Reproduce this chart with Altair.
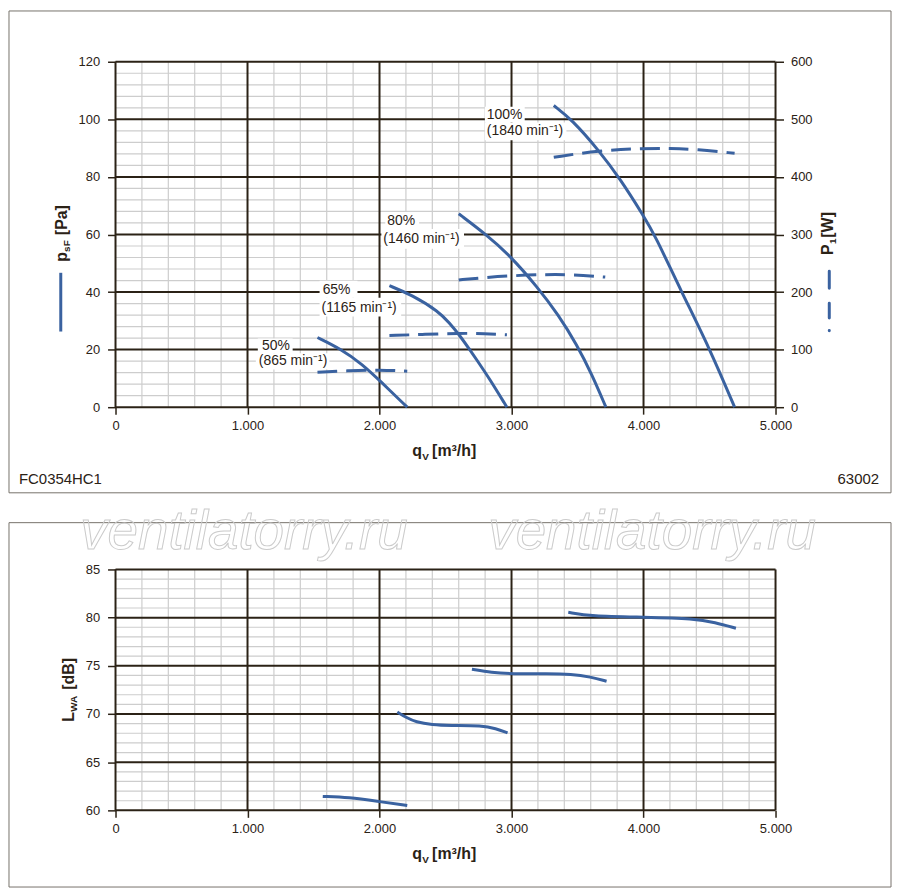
import altair as alt
import pandas as pd

BLUE = "#3a62a0"
DARK = "#2b2216"
MINOR = "#cdcdcd"
BORDER = "#77726b"
FONT = "Liberation Sans"

# ---------------- data ----------------
speeds = ["50%", "65%", "80%", "100%"]

# static pressure p_sF [Pa] vs air flow q_V [m3/h]
q_p50 = [1530, 1700, 1870, 2000, 2210]
p_p50 = [24.2, 20.4, 14.9, 9.3, 0.0]
q_p65 = [2075, 2245, 2450, 2530, 2600, 2680, 2755, 2830, 2965]
p_p65 = [42.2, 39.0, 33.2, 29.2, 25.4, 20.2, 15.2, 10.1, 0.0]
q_p80 = [2600, 2805, 2990, 3195, 3355, 3495, 3610, 3715]
p_p80 = [67.2, 60.1, 52.6, 41.8, 32.1, 21.7, 11.3, 0.0]
q_p100 = [3320, 3455, 3660, 3825, 3997, 4085, 4285, 4500, 4690]
p_p100 = [104.8, 100.0, 89.3, 79.2, 66.7, 59.9, 40.3, 20.5, 0.0]

# input power P1 [W]
q_w50 = [1530, 1770, 2000, 2210]
w_w50 = [60.5, 63.5, 65.0, 62.5]
q_w65 = [2075, 2350, 2600, 2800, 2965]
w_w65 = [124.5, 126.5, 128.5, 128.0, 125.7]
q_w80 = [2600, 2780, 2990, 3250, 3450, 3710]
w_w80 = [221.0, 224.8, 228.3, 230.5, 230.5, 226.0]
q_w100 = [3320, 3660, 4000, 4200, 4400, 4690]
w_w100 = [434.0, 446.0, 449.5, 449.5, 448.0, 441.0]

# sound power L_WA [dB]
q_n50 = [1570, 1770, 1980, 2210]
l_n50 = [61.45, 61.35, 60.95, 60.5]
q_n65 = [2135, 2200, 2275, 2400, 2530, 2780, 2880, 2970]
l_n65 = [70.2, 69.65, 69.16, 68.88, 68.8, 68.8, 68.5, 68.05]
q_n80 = [2700, 2850, 3000, 3280, 3450, 3600, 3720]
l_n80 = [74.65, 74.3, 74.15, 74.2, 74.15, 73.85, 73.4]
q_n100 = [3430, 3600, 4000, 4390, 4540, 4700]
l_n100 = [80.55, 80.15, 80.05, 79.9, 79.5, 78.9]

# speed annotations (anchor in data units)
lab_text = ["50%", "(865 min⁻¹)", "65%", "(1165 min⁻¹)",
            "80%", "(1460 min⁻¹)", "100%", "(1840 min⁻¹)"]
lab_q = [1109, 1086, 1569, 1561, 2059, 2029, 2813, 2813]
lab_p = [19.7, 14.5, 39.4, 33.2, 63.3, 56.9, 100.1, 94.6]
box_q1 = [1078, 1063, 1546, 1546, 2044, 2014, 2798, 2798]
box_q2 = [1342, 1621, 1833, 2164, 2300, 2640, 3100, 3416]
box_p1 = [23.9, 18.7, 43.9, 38.0, 67.8, 61.9, 104.4, 98.9]
box_p2 = [18.7, 13.1, 38.0, 31.5, 61.9, 55.0, 98.9, 92.7]

# axis ticks
x_major = [0, 1000, 2000, 3000, 4000, 5000]
x_minor = [v for v in range(0, 5001, 200) if v % 1000]
p_major = [0, 20, 40, 60, 80, 100, 120]
p_minor = [v for v in range(0, 121, 4) if v % 20]
w_ticks = [0, 100, 200, 300, 400, 500, 600]
l_major = [60, 65, 70, 75, 80, 85]
l_minor = [v for v in range(60, 86) if v % 5]


def frame(spd, qs, vs, name):
    return pd.DataFrame({"speed": spd, "q": qs, name: vs})


press = pd.concat([frame("50%", q_p50, p_p50, "P"), frame("65%", q_p65, p_p65, "P"),
                   frame("80%", q_p80, p_p80, "P"), frame("100%", q_p100, p_p100, "P")])
power = pd.concat([frame("50%", q_w50, w_w50, "W"), frame("65%", q_w65, w_w65, "W"),
                   frame("80%", q_w80, w_w80, "W"), frame("100%", q_w100, w_w100, "W")])
noise = pd.concat([frame("50%", q_n50, l_n50, "L"), frame("65%", q_n65, l_n65, "L"),
                   frame("80%", q_n80, l_n80, "L"), frame("100%", q_n100, l_n100, "L")])
labels = pd.DataFrame({"text": lab_text, "q": lab_q, "P": lab_p})
boxes = pd.DataFrame({"q1": box_q1, "q2": box_q2, "P1": box_p1, "P2": box_p2})
one = pd.DataFrame({"k": [0]})

W, H_TOP, H_BOT = 663, 347, 242

XS = alt.Scale(domain=[0, 5000], nice=False, zero=False)
PS = alt.Scale(domain=[0, 120], nice=False, zero=False)
WS = alt.Scale(domain=[0, 600], nice=False, zero=False)
LS = alt.Scale(domain=[60, 85], nice=False, zero=False)

label_expr = "replace(format(datum.value, ','), ',', '.')"
X_AXIS = alt.Axis(values=x_major, labelExpr=label_expr, domain=False, grid=False,
                  tickSize=7, tickColor=DARK, tickWidth=1.5, labelPadding=5,
                  labelFontSize=13, labelFont=FONT, labelColor=DARK, title=None,
                  labelFlush=False)


def y_axis(vals, orient="left"):
    return alt.Axis(values=vals, orient=orient, domain=False, grid=False,
                    tickSize=8, tickColor=DARK, tickWidth=1.5,
                    labelPadding=7 if orient == "right" else 8,
                    labelFontSize=13, labelFont=FONT, labelColor=DARK, title=None,
                    labelFlush=False)


P_AXIS = y_axis(p_major)
L_AXIS = y_axis(l_major)
W_AXIS = y_axis(w_ticks, "right")


def xenc(field):
    return alt.X(field, type="quantitative", scale=XS, axis=X_AXIS)


def vrules(vals, color, width):
    return alt.Chart(pd.DataFrame({"q": vals})).mark_rule(color=color, strokeWidth=width).encode(
        x=xenc("q"))


def hrules(vals, scale, axis, color, width):
    return alt.Chart(pd.DataFrame({"v": vals})).mark_rule(color=color, strokeWidth=width).encode(
        y=alt.Y("v:Q", scale=scale, axis=axis))


def ptext(txt, x, y, size=16, bold=True, angle=0, align="left"):
    kw = dict(text=txt, fontSize=size, font=FONT, color=DARK, align=align,
              baseline="alphabetic")
    if bold:
        kw["fontWeight"] = "bold"
    if angle:
        kw["angle"] = angle
    return alt.Chart(one).mark_text(**kw).encode(x=alt.value(x), y=alt.value(y))


def border(y1, y2):
    return alt.Chart(one).mark_rect(filled=False, stroke=BORDER, strokeWidth=1).encode(
        x=alt.value(-107), x2=alt.value(779), y=alt.value(y1), y2=alt.value(y2))


def watermark(x):
    return alt.Chart(one).mark_text(text="ventilatorry.ru", fontSize=55, fontStyle="italic",
                                    font=FONT, align="center", baseline="alphabetic",
                                    fillOpacity=0, stroke="#cbcbcb", strokeWidth=1).encode(
        x=alt.value(x), y=alt.value(-21))


# ---------------- top panel ----------------
top_a = alt.layer(
    vrules(x_minor, MINOR, 1.2),
    hrules(p_minor, PS, P_AXIS, MINOR, 1.2),
    vrules(x_major, DARK, 2),
    hrules(p_major, PS, P_AXIS, DARK, 2),
    alt.Chart(boxes).mark_rect(color="white").encode(
        x=xenc("q1"), x2="q2:Q",
        y=alt.Y("P1:Q", scale=PS, axis=P_AXIS), y2="P2:Q"),
    alt.Chart(press).mark_line(color=BLUE, strokeWidth=3, interpolate="basis").encode(
        x=xenc("q"),
        y=alt.Y("P:Q", scale=PS, axis=P_AXIS),
        detail="speed:N"),
    alt.Chart(labels).mark_text(align="left", baseline="alphabetic", fontSize=14,
                                font=FONT, color=DARK).encode(
        x=xenc("q"),
        y=alt.Y("P:Q", scale=PS, axis=P_AXIS),
        text="text:N"),
    border(-51, 433),
    # axis titles
    ptext("p", -49, 201, angle=270),
    ptext("sF", -46, 191, size=10, angle=270),
    ptext("[Pa]", -49, 144, angle=270, align="right"),
    ptext("P", 721, 194, angle=270),
    ptext("1", 724, 183, size=10, angle=270),
    ptext("[W]", 721, 151, angle=270, align="right"),
    ptext("q", 298, 396),
    ptext("V", 308, 400, size=10),
    ptext("[m³/h]", 318, 396),
    ptext("FC0354HC1", -97, 424, size=15, bold=False),
    ptext("63002", 767, 424, size=15, bold=False, align="right"),
    # legend glyphs
    alt.Chart(one).mark_rule(color=BLUE, strokeWidth=3).encode(
        x=alt.value(-55), y=alt.value(212), y2=alt.value(271)),
    alt.Chart(one).mark_rule(color=BLUE, strokeWidth=3, strokeCap="round",
                             strokeDash=[17, 15, 15, 12.5, 0.1, 100]).encode(
        x=alt.value(717), y=alt.value(210.5), y2=alt.value(270.2)),
)

top_b = alt.Chart(power).mark_line(color=BLUE, strokeWidth=3, strokeDash=[20, 9],
                                   interpolate="basis").encode(
    x=xenc("q"),
    y=alt.Y("W:Q", scale=WS, axis=W_AXIS),
    detail="speed:N")

top = alt.layer(top_a, top_b).resolve_scale(y="independent").properties(width=W, height=H_TOP)

# ---------------- bottom panel ----------------
bottom = alt.layer(
    vrules(x_minor, MINOR, 1.2),
    hrules(l_minor, LS, L_AXIS, MINOR, 1.2),
    vrules(x_major, DARK, 2),
    hrules(l_major, LS, L_AXIS, DARK, 2),
    alt.Chart(noise).mark_line(color=BLUE, strokeWidth=3, interpolate="basis").encode(
        x=xenc("q"),
        y=alt.Y("L:Q", scale=LS, axis=L_AXIS),
        detail="speed:N"),
    border(-47, 319),
    ptext("L", -42, 153, angle=270),
    ptext("WA", -39, 143, size=10, angle=270),
    ptext("[dB]", -42, 89, angle=270, align="right"),
    ptext("q", 298, 291),
    ptext("V", 308, 295, size=10),
    ptext("[m³/h]", 318, 291),
    watermark(129),
    watermark(539),
).properties(width=W, height=H_BOT)

chart = alt.vconcat(top, bottom, spacing=163, bounds="flush").properties(
    padding=0, background="white"
).configure_view(stroke=None)

chart.save("out.html", embed_options={"renderer": "svg", "actions": False})
